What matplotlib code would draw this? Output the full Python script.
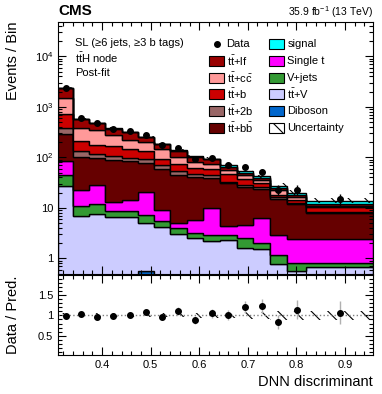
import numpy as np
import matplotlib
matplotlib.use("Agg")
import matplotlib.pyplot as plt
from matplotlib.patches import Rectangle
from matplotlib.lines import Line2D
from matplotlib.ticker import MultipleLocator, LogLocator, FuncFormatter, NullFormatter

plt.rcParams['font.family'] = ['Liberation Sans', 'DejaVu Sans']
plt.rcParams['mathtext.fontset'] = 'custom'
plt.rcParams['mathtext.rm'] = 'Liberation Sans'
plt.rcParams['mathtext.it'] = 'Liberation Sans:italic'
plt.rcParams['mathtext.bf'] = 'Liberation Sans:bold'
plt.rcParams['hatch.linewidth'] = 0.8

#------------------------------------------------------
# data

bin_edges = [0.309, 0.340, 0.373, 0.406, 0.440, 0.474, 0.507, 0.540, 0.574,
             0.608, 0.643, 0.677, 0.711, 0.746, 0.780, 0.821, 0.958]

diboson  = [0.01, 0.01, 0.01, 0.01, 0.01, 0.55, 0.01, 0.01, 0.01, 0.01, 0.01, 0.01, 0.01, 0.01, 0.01, 0.01]
ttv      = [27.4, 7.0, 7.5, 6.7, 6.5, 4.45, 4.25, 3.04, 2.5, 2.24, 2.31, 1.58, 1.51, 0.77, 0.54, 0.66]
vjets    = [16.5, 4.0, 4.5, 2.1, 2.3, 2.2, 1.35, 0.91, 0.64, 0.66, 0.59, 0.92, 0.48, 0.39, 0.26, 0.14]
single_t = [42, 11.8, 16.7, 4.2, 5.6, 13.8, 3.5, 1.15, 2.66, 7.0, 1.55, 2.1, 4.4, 1.74, 1.6, 1.6]
ttbb     = [209, 79, 67, 74, 68.6, 56, 50, 40, 35, 30, 26.5, 21.2, 17.5, 12.2, 9.5, 5.5]
tt2b     = [95, 30, 22.5, 21, 14, 16, 10, 8, 6.1, 5, 2.3, 2.0, 1.9, 1.2, 0.8, 0.4]
ttb      = [330, 83, 55, 58, 52, 43, 25, 21, 14.7, 14, 13.5, 9.4, 5.2, 1.8, 1.7, 2.3]
ttcc     = [750, 169, 171, 108, 76, 63, 53, 28, 19.5, 16, 10.2, 8.1, 5, 4, 1.9, 0.3]
ttlf     = [910, 191, 134, 94, 91, 51, 35, 34, 23, 16, 8, 3.7, 2.3, 2.5, 1.8, 1.0]
signal   = [30, 7, 7, 6, 5, 4, 3, 2, 3, 3, 6.6, 3.7, 3.6, 2.8, 2.0, 2.1]

data_counts = [2390, 600, 470, 370, 327, 274, 178, 153, 95, 99, 72, 64, 52, 23, 23, 15]
rel_unc = [0.05, 0.05, 0.05, 0.05, 0.05, 0.05, 0.05, 0.05, 0.06, 0.06, 0.07, 0.08, 0.09, 0.12, 0.12, 0.12]

#------------------------------------------------------

edges = np.array(bin_edges)
centers = 0.5 * (edges[1:] + edges[:-1])
data = np.array(data_counts, dtype=float)
unc = np.array(rel_unc)

stack = [
    (diboson, '#0066cc'),
    (ttv, '#ccccff'),
    (vjets, '#339933'),
    (single_t, '#ff00ff'),
    (ttbb, '#660000'),
    (tt2b, '#996666'),
    (ttb, '#cc0000'),
    (ttcc, '#ff9999'),
    (ttlf, '#990000'),
    (signal, '#00ffff'),
]

fig = plt.figure(figsize=(3.82, 3.94), dpi=100)
ax = fig.add_axes([0.1518, 0.3033, 0.8246, 0.6409])
rax = fig.add_axes([0.1518, 0.099, 0.8246, 0.2018])

bottom = np.full(len(centers), 1e-3)
for vals, col in stack:
    top = bottom + np.array(vals)
    ax.stairs(top, edges, baseline=bottom, fill=True, facecolor=col,
              edgecolor='black', linewidth=1)
    bottom = top
total = bottom

ax.stairs(total * (1 + unc), edges, baseline=total * (1 - unc), fill=True,
          facecolor='none', edgecolor='black', linewidth=0, hatch='\\\\')
ax.errorbar(centers, data, yerr=np.sqrt(data), fmt='o', color='black',
            ms=4, elinewidth=1, capsize=0)

ax.set_yscale('log')
ax.set_xlim(edges[0], edges[-1])
ax.set_ylim(0.48, 4.8e4)

def log_label(v, pos):
    if v == 1:
        return '1'
    if v == 10:
        return '10'
    return '$10^{%d}$' % int(round(np.log10(v)))

ax.yaxis.set_major_locator(LogLocator(base=10, numticks=10))
ax.yaxis.set_minor_locator(LogLocator(base=10, subs=np.arange(2, 10), numticks=20))
ax.yaxis.set_major_formatter(FuncFormatter(log_label))
ax.yaxis.set_minor_formatter(NullFormatter())
ax.xaxis.set_major_locator(MultipleLocator(0.1))
ax.xaxis.set_minor_locator(MultipleLocator(0.02))
ax.tick_params(axis='x', labelbottom=False)

for a in (ax, rax):
    a.tick_params(which='both', direction='in', top=True, right=True, labelsize=8)
    a.tick_params(which='major', length=6, width=0.8)
    a.tick_params(which='minor', length=3, width=0.8)

# ratio panel
ratio = data / total
rax.stairs(1 + unc, edges, baseline=1 - unc, fill=True, facecolor='none',
           edgecolor='black', linewidth=0, hatch='\\\\')
rax.axhline(1, color='gray', ls=':', lw=1)
rax.errorbar(centers, ratio, yerr=np.sqrt(data) / total, fmt='o', color='black',
             ecolor='#b0b0b0', ms=4, elinewidth=1, capsize=0)
rax.set_xlim(edges[0], edges[-1])
rax.set_ylim(0.02, 1.99)
rax.set_yticks([0.5, 1, 1.5])
rax.set_yticklabels(['0.5', '1', '1.5'])
rax.yaxis.set_minor_locator(MultipleLocator(0.1))
rax.xaxis.set_major_locator(MultipleLocator(0.1))
rax.xaxis.set_minor_locator(MultipleLocator(0.02))

# labels
fig.text(13 / 382, 1 - 22 / 394, 'Events / Bin', rotation=90, ha='center', va='top', fontsize=10.5)
fig.text(13 / 382, 1 - 315 / 394, 'Data / Pred.', rotation=90, ha='center', va='center', fontsize=10.5)
fig.text(373 / 382, 1 - 382 / 394, 'DNN discriminant', ha='right', va='center', fontsize=10.5)
fig.text(58 / 382, 1 - 11 / 394, 'CMS', ha='left', va='center', fontsize=11, fontweight='bold')
fig.text(373 / 382, 1 - 12 / 394, '35.9 fb$^{-1}$ (13 TeV)', ha='right', va='center', fontsize=7.5)

ax.text(0.054, 0.916, 'SL (\u22656 jets, \u22653 b tags)', transform=ax.transAxes, fontsize=8, va='center')
ax.text(0.054, 0.856, r't$\bar{\rm t}$H node', transform=ax.transAxes, fontsize=8, va='center')
ax.text(0.054, 0.797, 'Post-fit', transform=ax.transAxes, fontsize=8, va='center')

#------------------------------------------------------
# legend, drawn by hand so both columns line up

tt = r't$\bar{\rm t}$'
col1 = [('Data', None), (tt + '+lf', '#990000'), (tt + r'+c$\bar{\rm c}$', '#ff9999'),
        (tt + '+b', '#cc0000'), (tt + '+2b', '#996666'), (tt + r'+b$\bar{\rm b}$', '#660000')]
col2 = [('signal', '#00ffff'), ('Single t', '#ff00ff'), ('V+jets', '#339933'),
        (tt + '+V', '#ccccff'), ('Diboson', '#0066cc'), ('Uncertainty', 'hatch')]
row_y = [0.912, 0.846, 0.780, 0.714, 0.648, 0.582]
box_w, box_h = 0.0476, 0.0396

for box_x, text_x, entries in [(0.480, 0.535, col1), (0.671, 0.728, col2)]:
    for (label, col), y in zip(entries, row_y):
        if col is None:
            ax.add_line(Line2D([box_x + box_w / 2], [y], marker='o', ms=4, color='black',
                               transform=ax.transAxes))
        elif col == 'hatch':
            ax.add_patch(Rectangle((box_x, y - box_h / 2), box_w, box_h, facecolor='none',
                                   edgecolor='black', hatch='\\\\', linewidth=0.8,
                                   transform=ax.transAxes))
        else:
            ax.add_patch(Rectangle((box_x, y - box_h / 2), box_w, box_h, facecolor=col,
                                   edgecolor='black', linewidth=0.8, transform=ax.transAxes))
        ax.text(text_x, y, label, transform=ax.transAxes, fontsize=8, va='center')

fig.savefig('out.png', dpi=100)
